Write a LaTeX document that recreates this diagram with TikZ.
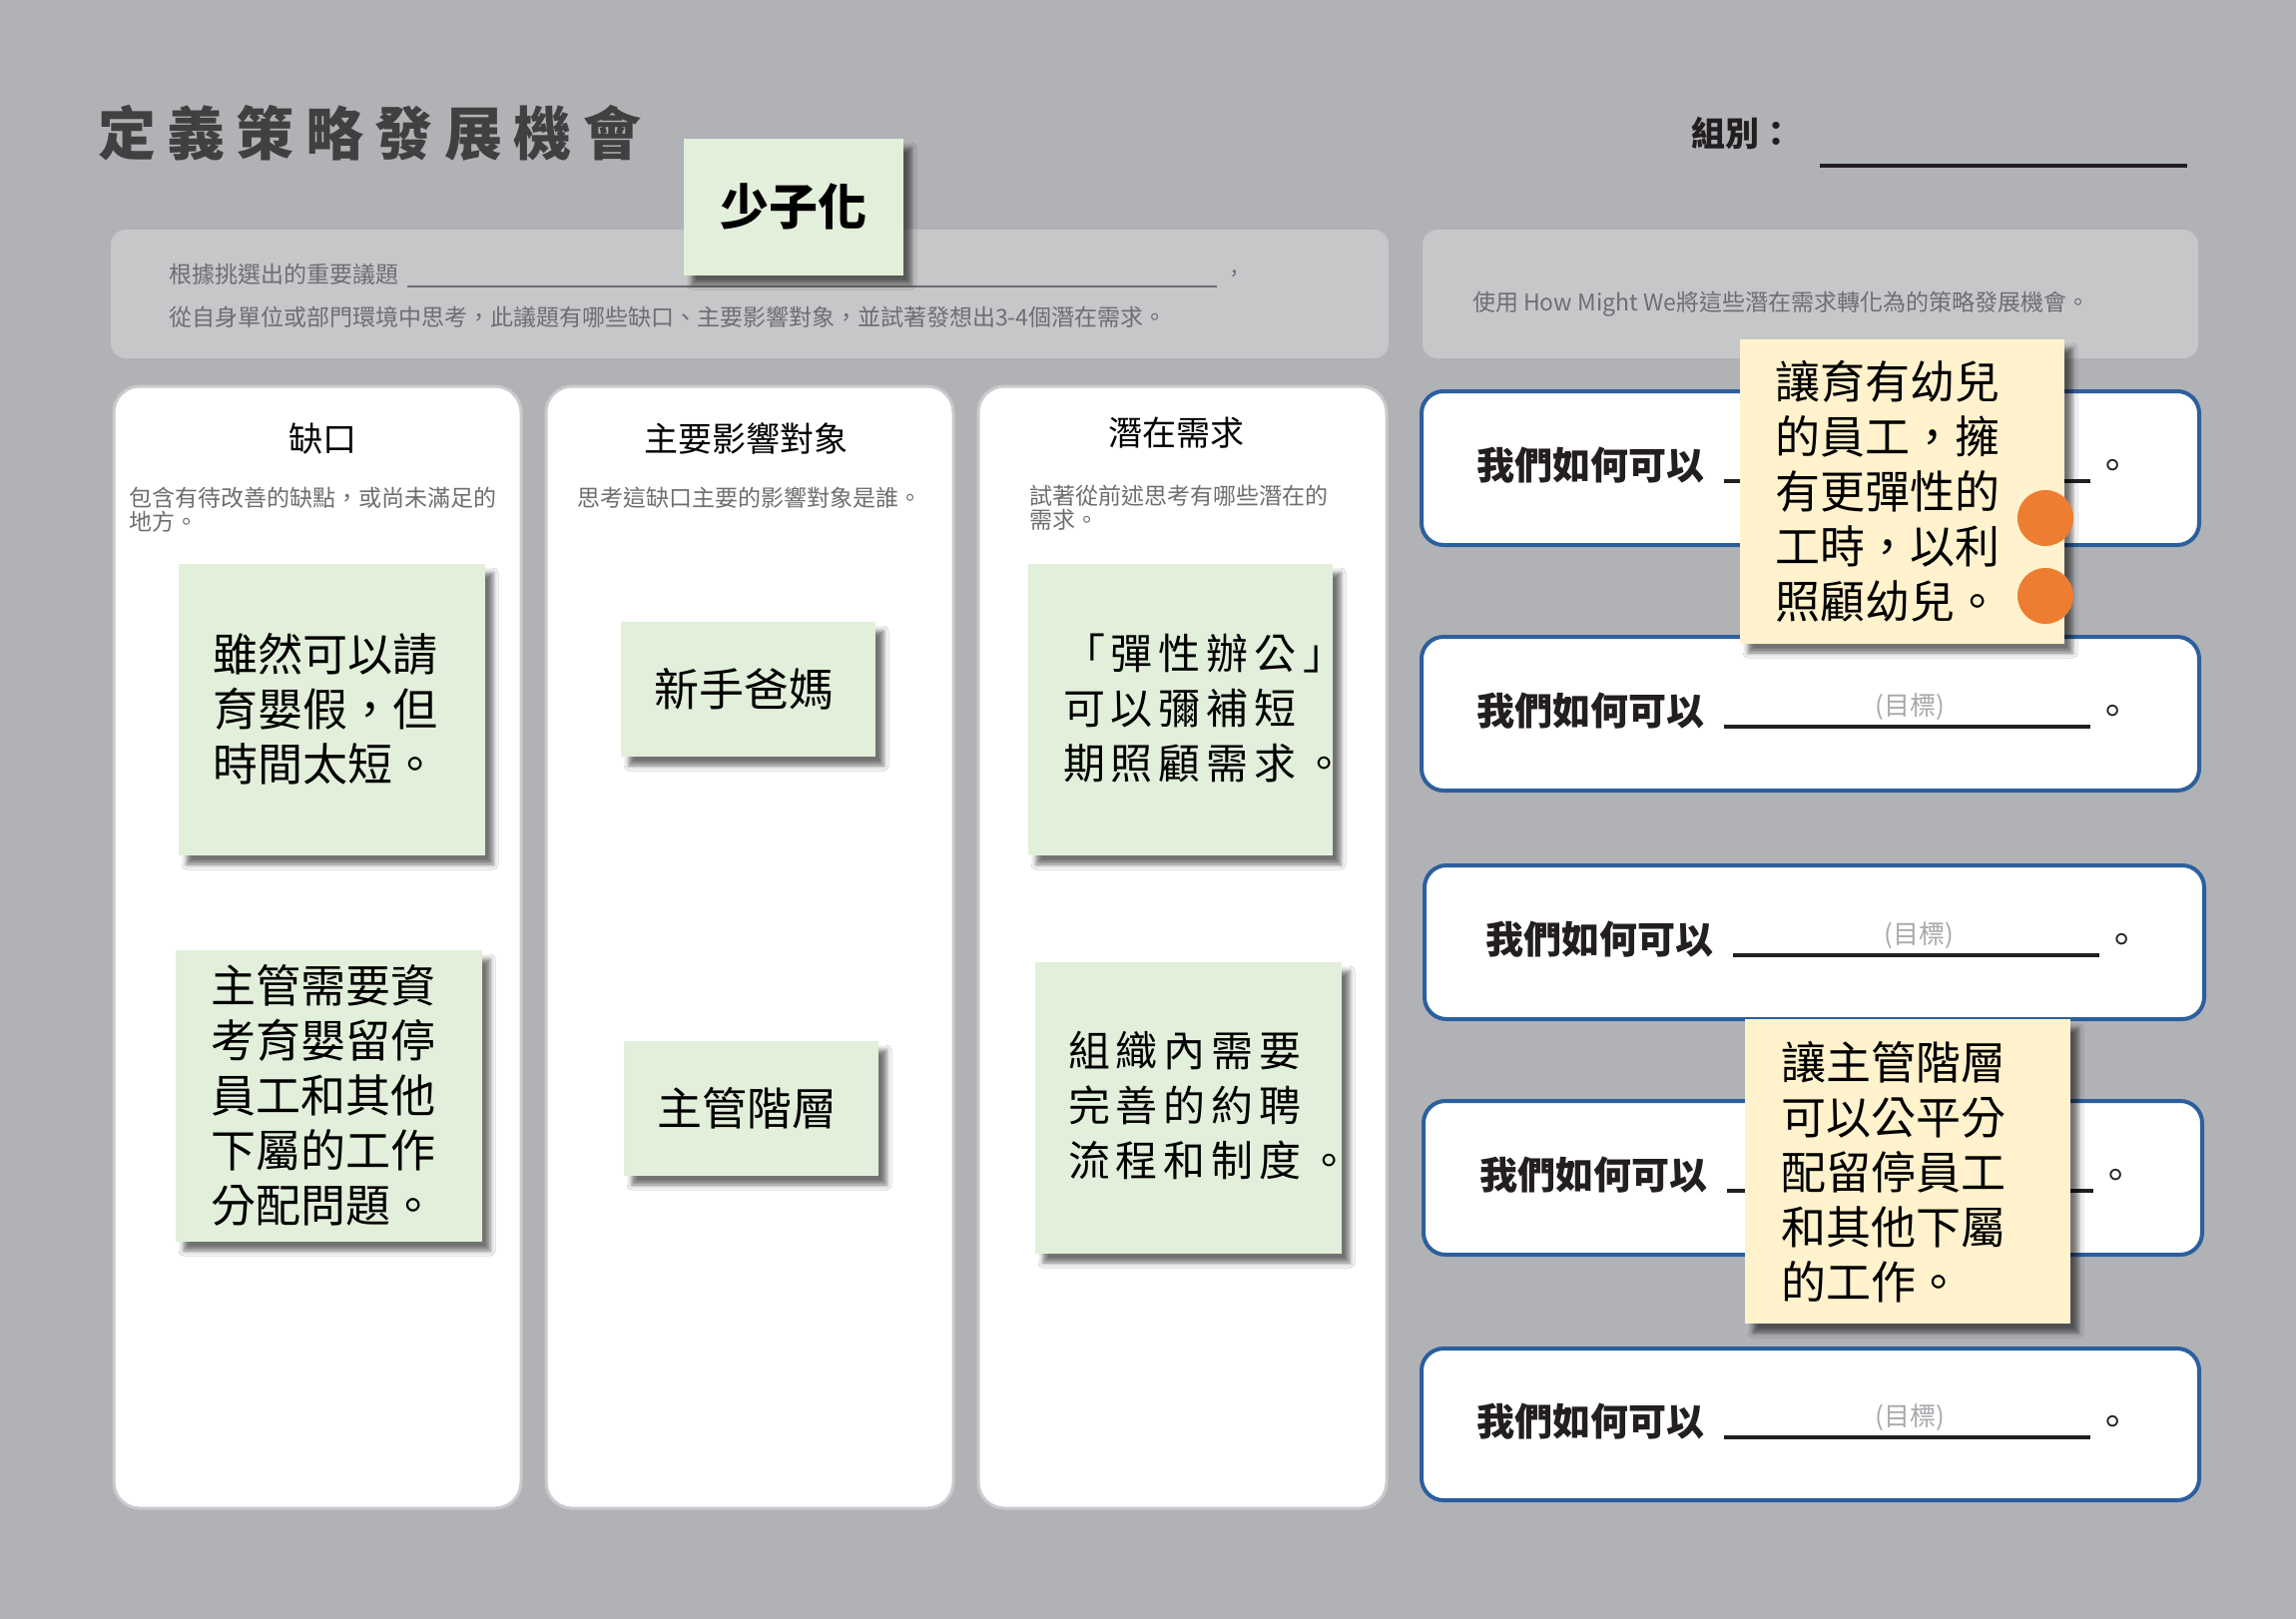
\documentclass[tikz,border=0pt]{standalone}
\usepackage{fontspec}
\setmainfont{Noto Sans CJK TC}
\usetikzlibrary{shadows.blur}
\definecolor{bg}{HTML}{B1B2B6}
\definecolor{panel}{HTML}{C6C7C9}
\definecolor{titlec}{HTML}{404041}
\definecolor{desc}{HTML}{6D6E71}
\definecolor{stickyg}{HTML}{E2EFDA}
\definecolor{stickyy}{HTML}{FFF2CC}
\definecolor{orng}{HTML}{ED7D31}
\definecolor{hmwblue}{HTML}{2C5F9E}
\definecolor{goal}{HTML}{A7A9AC}
\definecolor{ink}{HTML}{231F20}
\definecolor{cardline}{HTML}{C9CACC}

\makeatletter
\newcommand\LSp[2]{\def\LS@sp{\hspace{#1}}\LS@first#2\@nil}
\def\LS@first#1{#1\LS@loop}
\def\LS@loop#1{\ifx\@nil#1\else\LS@sp#1\expandafter\LS@loop\fi}
\makeatother

\tikzset{
  txt/.style={inner sep=0pt, outer sep=0pt},
  panelbox/.style={fill=panel, rounded corners=15pt, draw=none, inner sep=0pt},
  card/.style={fill=white, draw=cardline, line width=3pt, rounded corners=26pt, inner sep=0pt},
  gsticky/.style={fill=stickyg, inner sep=0pt,
    blur shadow={shadow xshift=8pt, shadow yshift=-9pt, shadow blur radius=5pt, shadow opacity=55}},
  ysticky/.style={fill=stickyy, inner sep=0pt,
    blur shadow={shadow xshift=8pt, shadow yshift=-9pt, shadow blur radius=5pt, shadow opacity=55}},
  hmwbox/.style={fill=white, draw=hmwblue, line width=4pt, rounded corners=22pt, inner sep=0pt},
  hmwtxt/.style={txt, font=\fontsize{38}{40}\selectfont\bfseries, text=ink},
  hmwdot/.style={txt, font=\fontsize{38}{40}\selectfont, text=ink},
  goaltxt/.style={txt, font=\fontsize{26}{28}\selectfont, text=goal},
  uline/.style={draw=ink, line width=3.5pt},
  bigtxt/.style={txt, align=left, font=\fontsize{45}{55}\selectfont, text=black},
  sptxt/.style={txt, align=left, font=\fontsize{42}{55}\selectfont, text=black},
  desctxt/.style={txt, align=left, font=\fontsize{23}{23.5}\selectfont, text=desc},
  headtxt/.style={txt, font=\fontsize{34}{40}\selectfont, text=black},
  dot/.style={circle, fill=orng, minimum size=56pt, inner sep=0pt},
}

\newcommand\HMW[7]{%
  \pgfmathsetmacro\HMWcx{(#2+#4)/2}%
  \pgfmathsetmacro\HMWcy{(#3+#5)/2}%
  \pgfmathsetmacro\HMWw{#4-#2}%
  \pgfmathsetmacro\HMWh{#5-#3}%
  \node[hmwbox, minimum width=\HMWw pt, minimum height=\HMWh pt] (#1) at (\HMWcx,\HMWcy) {};
  \node[hmwtxt, anchor=base west] (#1t) at ({#2+55+#6},{\HMWcy-3+14.4}) {我們如何可以};
  \coordinate (#1a) at ({#2+303+#6},{\HMWcy+13});
  \coordinate (#1b) at ({#2+670+#6},{\HMWcy+13});
  \draw[uline] (#1a) -- (#1b);
  \ifnum#7=1 \node[goaltxt, anchor=base] (#1g) at ({#2+489+#6},{\HMWcy-8+9.9}) {(目標)};\fi
  \node[hmwdot, anchor=base] (#1p) at ({#2+692+#6},{\HMWcy-3+14.4}) {。};
}

\begin{document}
\begin{tikzpicture}[x=1pt, y=-1pt]
\useasboundingbox (0,0) rectangle (2300,1622);
\fill[bg] (0,0) rectangle (2300,1622);

% title and group
\node[txt, anchor=base west, font=\fontsize{58}{60}\selectfont\bfseries, text=titlec] (title) at (98,155.5) {\LSp{11.5pt}{定義策略發展機會}};
\node[txt, anchor=base west, font=\fontsize{34}{40}\selectfont\bfseries, text=ink] (grp) at (1694,146.5) {組別：};
\coordinate (g1) at (1823,166);
\coordinate (g2) at (2191,166);
\draw[ink, line width=4pt] (g1) -- (g2);

% top panels
\node[panelbox, minimum width=1280pt, minimum height=129pt] (topL) at (751,294.5) {};
\node[panelbox, minimum width=777pt, minimum height=129pt] (topR) at (1813.5,294.5) {};
\node[txt, anchor=base west, font=\fontsize{23}{24}\selectfont, text=desc] (q1) at (169,283.5) {根據挑選出的重要議題};
\coordinate (q1a) at (408,287);
\coordinate (q1b) at (1219,287);
\draw[desc, line width=1.5pt] (q1a) -- (q1b);
\node[txt, anchor=base, font=\fontsize{23}{24}\selectfont, text=desc] (q1c) at (1237,273) {,};
\node[txt, anchor=base west, font=\fontsize{23}{24}\selectfont, text=desc] (q2) at (169,326.5) {從自身單位或部門環境中思考，此議題有哪些缺口、主要影響對象，並試著發想出3-4個潛在需求。};
\node[txt, anchor=base west, font=\fontsize{23}{24}\selectfont, text=desc] (q3) at (1475,311) {使用 How Might We將這些潛在需求轉化為的策略發展機會。};

% topic sticky
\node[gsticky, minimum width=220pt, minimum height=137pt] (topic) at (795,207.5) {};
\node[txt, anchor=base, font=\fontsize{49}{50}\selectfont\bfseries, text=black] (topict) at (795,225.6) {少子化};

% columns
\node[card, minimum width=408pt, minimum height=1124pt] (c1) at (318,949) {};
\node[card, minimum width=408pt, minimum height=1124pt] (c2) at (751,949) {};
\node[card, minimum width=409pt, minimum height=1124pt] (c3) at (1184.5,949) {};
\node[headtxt, anchor=base] (c1h) at (323,452.9) {缺口};
\node[headtxt, anchor=base] (c2h) at (747,452.9) {主要影響對象};
\node[headtxt, anchor=base] (c3h) at (1178,446.9) {潛在需求};
\node[desctxt, anchor=north west] (c1d) at (129,487.5) {\rule{0pt}{.88em}包含有待改善的缺點，或尚未滿足的\\地方。};
\node[desctxt, anchor=base west] (c2d) at (578,507.7) {思考這缺口主要的影響對象是誰。};
\node[desctxt, anchor=north west] (c3d) at (1031,485.5) {\rule{0pt}{.88em}試著從前述思考有哪些潛在的\\需求。};

% green stickies
\node[gsticky, minimum width=307pt, minimum height=292pt] (s1) at (332.5,711) {};
\node[bigtxt, anchor=north west] (s1t) at (213,632.5) {\rule{0pt}{.88em}雖然可以請\\育嬰假，但\\時間太短。};
\node[gsticky, minimum width=255pt, minimum height=135pt] (s2) at (749.5,690.5) {};
\node[bigtxt, anchor=base] (s2t) at (745,707.1) {新手爸媽};
\node[gsticky, minimum width=305pt, minimum height=292pt] (s3) at (1182.5,711) {};
\node[sptxt, anchor=north west] (s3t) at (1065,634) {\rule{0pt}{.88em}\LSp{6pt}{「彈性辦公」}\\\LSp{6pt}{可以彌補短}\\\LSp{6pt}{期照顧需求。}};
\node[gsticky, minimum width=307pt, minimum height=292pt] (s4) at (329.5,1098) {};
\node[bigtxt, anchor=north west] (s4t) at (211,964.5) {\rule{0pt}{.88em}主管需要資\\考育嬰留停\\員工和其他\\下屬的工作\\分配問題。};
\node[gsticky, minimum width=255pt, minimum height=135pt] (s5) at (752.5,1110.5) {};
\node[bigtxt, anchor=base] (s5t) at (748,1127.1) {主管階層};
\node[gsticky, minimum width=307pt, minimum height=292pt] (s6) at (1190.5,1110) {};
\node[sptxt, anchor=north west] (s6t) at (1070,1032) {\rule{0pt}{.88em}\LSp{6pt}{組織內需要}\\\LSp{6pt}{完善的約聘}\\\LSp{6pt}{流程和制度。}};

% HMW boxes
\HMW{b1}{1424}{392}{2203}{546}{0}{0}
\HMW{b2}{1424}{638}{2203}{792}{0}{1}
\HMW{b3}{1427}{867}{2208}{1021}{6}{1}
\HMW{b4}{1426}{1103}{2206}{1257}{1}{0}
\HMW{b5}{1424}{1351}{2203}{1503}{0}{1}

% yellow stickies
\node[ysticky, minimum width=325pt, minimum height=305pt] (y1) at (1905.5,492.5) {};
\node[bigtxt, anchor=north west] (y1t) at (1778,359.5) {\rule{0pt}{.88em}讓育有幼兒\\的員工，擁\\有更彈性的\\工時，以利\\照顧幼兒。};
\node[dot] (d1) at (2049,519) {};
\node[dot] (d2) at (2049,597) {};
\node[ysticky, minimum width=326pt, minimum height=305pt] (y2) at (1911,1173.5) {};
\node[bigtxt, anchor=north west] (y2t) at (1784,1041.5) {\rule{0pt}{.88em}讓主管階層\\可以公平分\\配留停員工\\和其他下屬\\的工作。};
\end{tikzpicture}
\end{document}
